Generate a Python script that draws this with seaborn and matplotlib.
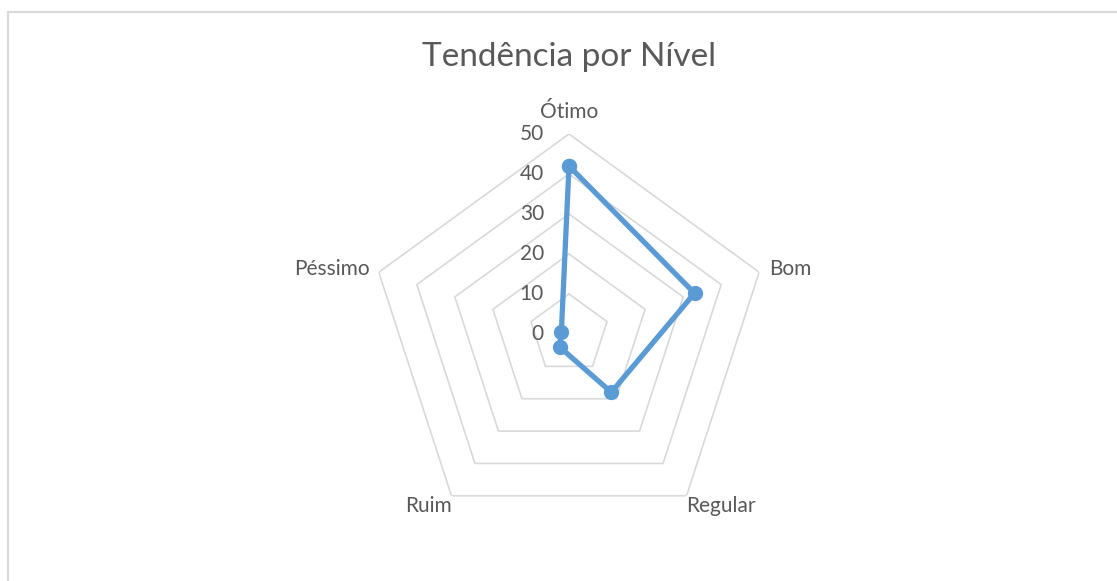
import matplotlib
matplotlib.use("Agg")
import matplotlib.pyplot as plt
import matplotlib.transforms as mtransforms
from matplotlib.patches import Rectangle
import numpy as np
import pandas as pd
import seaborn as sns

categories = ["Ótimo", "Bom", "Regular", "Ruim", "Péssimo"]
values = [42, 33, 18, 4, 2]
rings = [10, 20, 30, 40, 50]
ring_labels = ["0", "10", "20", "30", "40", "50"]

sns.set_theme(style="white")
plt.rcParams["font.family"] = ["Lato", "DejaVu Sans"]

GRAY_TXT = "#595959"
GRID = "#D9D9D9"
BLUE = "#5B9BD5"

W, H = 1117, 581
fig = plt.figure(figsize=(W / 100, H / 100), dpi=100)

# polar axes centred at (569, 334) px, radius 200 px
cx, cy, rad = 569, 334, 200
ax = fig.add_axes([(cx - rad) / W, (H - cy - rad) / H, 2 * rad / W, 2 * rad / H], projection="polar")
ax.set_theta_zero_location("N")
ax.set_theta_direction(-1)
ax.set_ylim(0, 50)
ax.grid(False)
ax.set_xticks([])
ax.set_yticks([])
ax.spines["polar"].set_visible(False)
ax.set_facecolor("none")

theta = np.deg2rad(np.arange(len(categories)) * 360 / len(categories))
theta_closed = np.append(theta, theta[0])

# pentagon grid
for r in rings:
    ax.plot(theta_closed, [r] * len(theta_closed), color=GRID, lw=1.2, zorder=1)

# data (closed loop)
df = pd.DataFrame({"theta": theta_closed, "value": values + values[:1]})
sns.lineplot(data=df, x="theta", y="value", sort=False, estimator=None, ax=ax, color=BLUE,
             linewidth=3.8, marker="o", markersize=11, markeredgewidth=0, zorder=3)
ax.set_xlabel("")
ax.set_ylabel("")

# category labels
label_pos = [
    (53, "center", "bottom"),
    (52.5, "left", "center"),
    (50, "left", "top"),
    (50, "right", "top"),
    (52.5, "right", "center"),
]
for t, name, (r, ha, va) in zip(theta, categories, label_pos):
    ax.text(t, r, name, ha=ha, va=va, fontsize=15, color=GRAY_TXT)

# radial tick labels to the left of the vertical axis
off = mtransforms.offset_copy(ax.transData, fig=fig, x=-25, y=0, units="dots")
for i, lab in enumerate(ring_labels):
    ax.text(0, i * 10, lab, transform=off, ha="right", va="center", fontsize=15, color=GRAY_TXT)

fig.text(cx / W, 1 - 57 / H, "Tendência por Nível", ha="center", va="center", fontsize=24, color=GRAY_TXT)

fig.patches.append(Rectangle((8 / W, -0.1), 1.2, 1 - 12 / H + 0.1, transform=fig.transFigure,
                             fill=False, edgecolor=GRID, lw=1.5))

fig.savefig("out.png", dpi=100, facecolor="white")
